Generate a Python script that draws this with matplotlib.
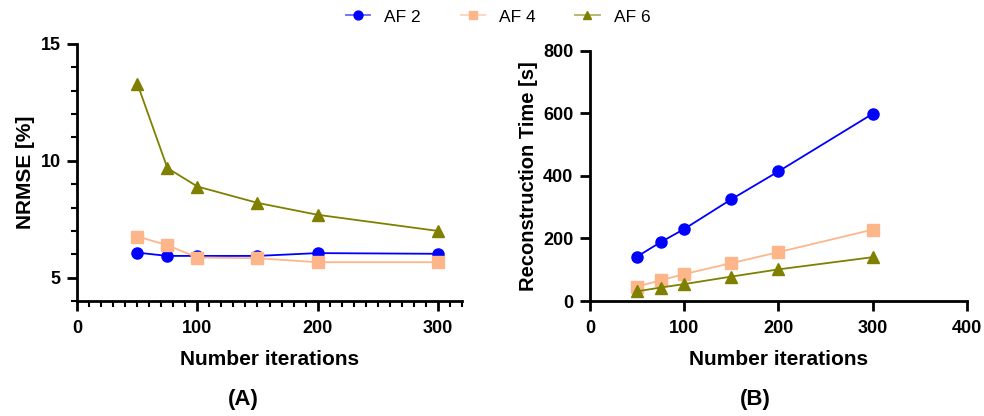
import matplotlib
matplotlib.use("Agg")
import matplotlib.pyplot as plt
from matplotlib.ticker import MultipleLocator
from matplotlib.colors import to_rgba

plt.rcParams['font.family'] = ['Liberation Sans', 'DejaVu Sans']

iterations = [50, 75, 100, 150, 200, 300]
series_names = ["AF 2", "AF 4", "AF 6"]
nrmse_af2 = [6.07, 5.93, 5.93, 5.93, 6.05, 6.02]
nrmse_af4 = [6.76, 6.39, 5.86, 5.83, 5.66, 5.66]
nrmse_af6 = [13.30, 9.69, 8.90, 8.20, 7.69, 7.00]
time_af2 = [142, 188, 230, 325, 414, 598]
time_af4 = [46, 66, 86, 121, 156, 228]
time_af6 = [31, 43, 54, 78, 101, 140]

colors = ["#0000FF", "#FDB68A", "#808000"]
markers = ["o", "s", "^"]

fig = plt.figure(figsize=(9.84, 4.16), dpi=100)
W, H = 984, 416
axA = fig.add_axes([77.3 / W, 1 - 301 / H, (461.7 - 77.3) / W, (301 - 44) / H])
axB = fig.add_axes([590 / W, 1 - 301 / H, (966.7 - 590) / W, (301 - 50.7) / H])

handles = []
for vals, c, m, name in zip([nrmse_af2, nrmse_af4, nrmse_af6], colors, markers, series_names):
    h, = axA.plot(iterations, vals, color=c, marker=m, markersize=8, linewidth=1.3, label=name)
    handles.append(h)
for vals, c, m in zip([time_af2, time_af4, time_af6], colors, markers):
    axB.plot(iterations, vals, color=c, marker=m, markersize=8, linewidth=1.3)

for ax in (axA, axB):
    for s in ("top", "right"):
        ax.spines[s].set_visible(False)
    for s in ("left", "bottom"):
        ax.spines[s].set_linewidth(2)
    ax.tick_params(which="major", length=7, width=2, labelsize=13, pad=5)
    ax.tick_params(axis="x", which="major", pad=7)
    ax.tick_params(which="minor", length=4.5, width=1.5)
    ax.set_xlabel("Number iterations", fontsize=15, fontweight="bold", labelpad=9)

axA.set_xlim(0, 320)
axA.set_ylim(4, 15)
axA.xaxis.set_major_locator(MultipleLocator(100))
axA.xaxis.set_minor_locator(MultipleLocator(10))
axA.yaxis.set_major_locator(MultipleLocator(5))
axA.yaxis.set_minor_locator(MultipleLocator(1))
axA.set_ylabel("NRMSE [%]", fontsize=15, fontweight="bold", labelpad=4)

axB.set_xlim(0, 400)
axB.set_ylim(0, 800)
axB.xaxis.set_major_locator(MultipleLocator(100))
axB.yaxis.set_major_locator(MultipleLocator(200))
axB.set_ylabel("Reconstruction Time [s]", fontsize=14.5, fontweight="bold", labelpad=4)

for ax in (axA, axB):
    for lab in ax.get_xticklabels() + ax.get_yticklabels():
        lab.set_fontweight("bold")

fig.text(243 / W, 1 - 400 / H, "(A)", fontsize=16, fontweight="bold", ha="center", va="center")
fig.text(755 / W, 1 - 400 / H, "(B)", fontsize=16, fontweight="bold", ha="center", va="center")

leg = fig.legend(handles=handles, loc="center", bbox_to_anchor=(498 / W, 1 - 17 / H), ncol=3,
                 frameon=False, fontsize=12.5, handlelength=1.4, handletextpad=0.8,
                 columnspacing=2.3, markerscale=0.8)
for lh, c in zip(leg.get_lines(), colors):
    lh.set_color(to_rgba(c, 0.6))
    lh.set_markerfacecolor(c)
    lh.set_markeredgecolor(c)

fig.savefig("out.png", dpi=100)
